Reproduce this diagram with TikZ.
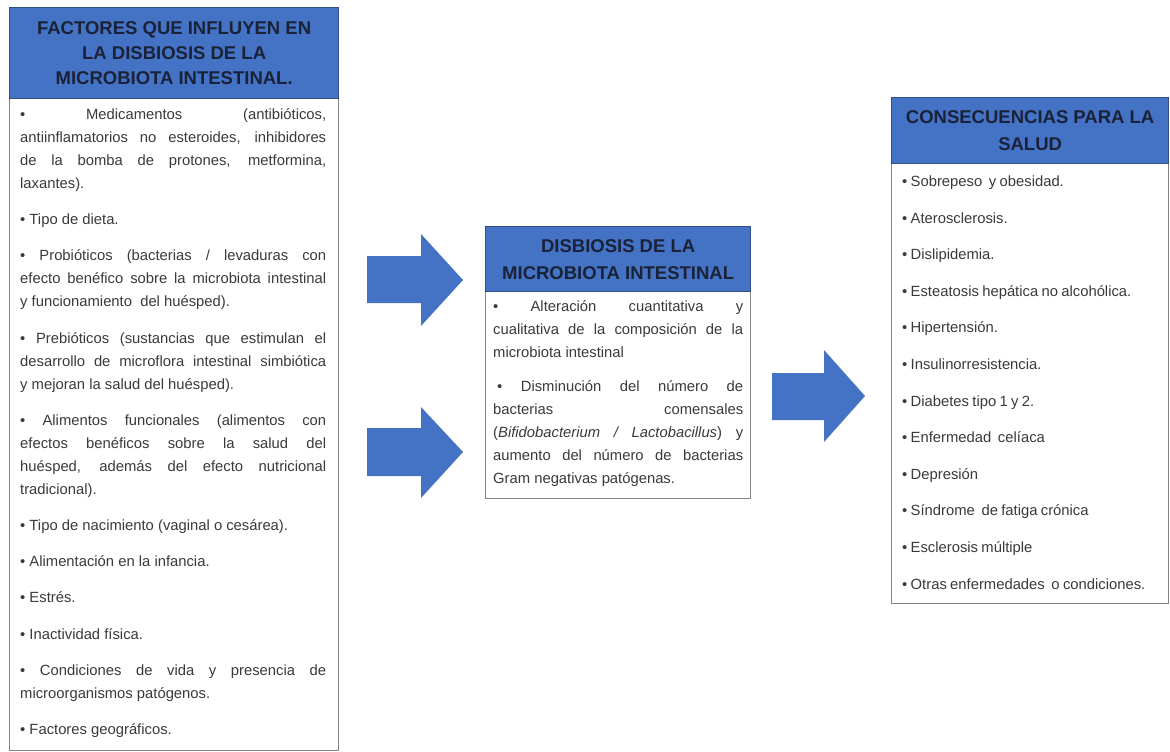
\documentclass[tikz,border=0pt]{standalone}
\usepackage{fontspec}
\setmainfont{Liberation Sans}
\definecolor{hdrblue}{HTML}{4472C4}
\definecolor{hdrline}{HTML}{2F4F86}
\definecolor{hdrtext}{HTML}{1A2238}
\definecolor{boxline}{HTML}{858585}
\definecolor{bodytextcol}{HTML}{3A3A3A}
\definecolor{arrowblue}{HTML}{4472C4}
\newcommand{\bodyfnt}{\fontsize{14.8}{23}\selectfont\hyphenpenalty=10000\exhyphenpenalty=10000\tolerance=10000\hbadness=10000}
\begin{document}
\begin{tikzpicture}[x=1pt,y=-1pt,
  hdr/.style={draw=hdrline, line width=1.3pt, fill=hdrblue, text=hdrtext, align=center, inner sep=0pt, anchor=north west},
  bodybox/.style={draw=boxline, line width=1.3pt, fill=white, inner sep=0pt, anchor=north west},
  bodytext/.style={inner sep=0pt, anchor=base west, text=bodytextcol},
  blockarrow/.style={fill=arrowblue, draw=none}]
\useasboundingbox[fill=white] (0,0) rectangle (1170,752);

% left box
\node[bodybox, minimum width=329, minimum height=652] (b1) at (9,98) {};
\node[hdr, minimum width=329, minimum height=91, font=\fontsize{18.5}{25}\selectfont\bfseries] (h1) at (9,7)
  {FACTORES QUE INFLUYEN EN\\ LA DISBIOSIS DE LA\\ MICROBIOTA INTESTINAL.};
\node[bodytext, text width=306, align=justify] (t1) at (20,119.5) {\bodyfnt\setlength{\parskip}{13.2pt}%
•\ Medicamentos (antibióticos,\linebreak antiinflamatorios no esteroides, inhibidores\linebreak de la bomba de protones, metformina,\linebreak laxantes).\par
• Tipo de dieta.\par
• Probióticos (bacterias / levaduras con\linebreak efecto benéfico sobre la microbiota intestinal\linebreak y funcionamiento\ \ del huésped).\par
• Prebióticos (sustancias que estimulan el\linebreak desarrollo de microflora intestinal simbiótica\linebreak y mejoran la salud del huésped).\par
• Alimentos funcionales (alimentos con\linebreak efectos benéficos sobre la salud del\linebreak huésped, además del efecto nutricional\linebreak tradicional).\par
• Tipo de nacimiento (vaginal o cesárea).\par
• Alimentación en la infancia.\par
• Estrés.\par
• Inactividad física.\par
• Condiciones de vida y presencia de\linebreak microorganismos patógenos.\par
• Factores geográficos.\par};

% middle box
\node[bodybox, minimum width=265, minimum height=207] (b2) at (485,291) {};
\node[hdr, minimum width=265, minimum height=65, font=\fontsize{18.5}{27}\selectfont\bfseries] (h2) at (485,226)
  {DISBIOSIS DE LA\\ MICROBIOTA INTESTINAL};
\node[bodytext, text width=250, align=justify] (t2) at (493,311.5) {\bodyfnt\setlength{\parskip}{11pt}%
•\ Alteración cuantitativa y\linebreak cualitativa de la composición de la\linebreak microbiota intestinal\par
\hspace*{4pt}• Disminución del número de\linebreak bacterias comensales\linebreak (\textit{Bifidobacterium / Lactobacillus}) y\linebreak aumento del número de bacterias\linebreak Gram negativas patógenas.\par};

% right box
\node[bodybox, minimum width=277, minimum height=440] (b3) at (891,163) {};
\node[hdr, minimum width=277, minimum height=66, font=\fontsize{18.5}{27}\selectfont\bfseries] (h3) at (891,97)
  {CONSECUENCIAS PARA LA\\ SALUD};
\node[bodytext, text width=262, align=left] (t3) at (902,186.5) {\bodyfnt\setlength{\parskip}{13.6pt}%
• Sobrepeso\ \ y obesidad.\par
• Aterosclerosis.\par
• Dislipidemia.\par
• Esteatosis hepática no alcohólica.\par
• Hipertensión.\par
• Insulinorresistencia.\par
• Diabetes tipo 1 y 2.\par
• Enfermedad\ \ celíaca\par
• Depresión\par
• Síndrome\ \ de fatiga crónica\par
• Esclerosis múltiple\par
• Otras enfermedades\ \ o condiciones.\par};

% block arrows
\fill[blockarrow] (367,256) -- (421,256) -- (421,234) -- (463,280) -- (421,326) -- (421,303) -- (367,303) -- cycle;
\fill[blockarrow] (367,428) -- (421,428) -- (421,407) -- (463,452) -- (421,498) -- (421,476) -- (367,476) -- cycle;
\fill[blockarrow] (772,373) -- (824,373) -- (824,350) -- (865,396) -- (824,442) -- (824,420) -- (772,420) -- cycle;
\end{tikzpicture}
\end{document}
